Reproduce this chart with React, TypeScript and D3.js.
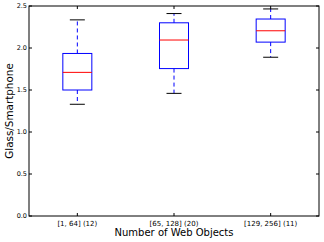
import React, { useRef, useEffect } from "react";
import * as d3 from "d3";

const categories = ["[1, 64] (12)", "[65, 128] (20)", "[129, 256] (11)"];
const whiskerLow = [1.33, 1.46, 1.89];
const q1 = [1.5, 1.755, 2.07];
const medians = [1.71, 2.095, 2.205];
const q3 = [1.935, 2.3, 2.345];
const whiskerHigh = [2.335, 2.41, 2.465];
const yTicks = [0.0, 0.5, 1.0, 1.5, 2.0, 2.5];

const width = 324;
const height = 242;
const margin = { top: 6, right: 5, bottom: 26, left: 29 };

const App = () => {
  const svgRef = useRef<SVGSVGElement>(null);

  useEffect(() => {
    const svg = d3.select(svgRef.current);
    svg.selectAll("*").remove();

    const w = width - margin.left - margin.right;
    const h = height - margin.top - margin.bottom;

    const x = d3.scaleLinear().domain([0.5, 3.5]).range([0, w]);
    const y = d3.scaleLinear().domain([0, 2.5]).range([h, 0]);

    const g = svg
      .append("g")
      .attr("transform", `translate(${margin.left},${margin.top})`);

    const font = "DejaVu Sans";

    const data = categories.map((c, i) => ({
      i: i + 1,
      lo: whiskerLow[i],
      q1: q1[i],
      med: medians[i],
      q3: q3[i],
      hi: whiskerHigh[i],
    }));
    const boxW = 29;
    const capW = 15;

    const box = g
      .selectAll("g.box")
      .data(data)
      .enter()
      .append("g")
      .attr("class", "box");

    // whiskers
    box
      .append("line")
      .attr("x1", (d) => x(d.i))
      .attr("x2", (d) => x(d.i))
      .attr("y1", (d) => y(d.q3))
      .attr("y2", (d) => y(d.hi))
      .attr("stroke", "#0000ff")
      .attr("stroke-dasharray", "4,3");
    box
      .append("line")
      .attr("x1", (d) => x(d.i))
      .attr("x2", (d) => x(d.i))
      .attr("y1", (d) => y(d.q1))
      .attr("y2", (d) => y(d.lo))
      .attr("stroke", "#0000ff")
      .attr("stroke-dasharray", "4,3");
    // caps
    box
      .append("line")
      .attr("x1", (d) => x(d.i) - capW / 2)
      .attr("x2", (d) => x(d.i) + capW / 2)
      .attr("y1", (d) => y(d.hi))
      .attr("y2", (d) => y(d.hi))
      .attr("stroke", "#000");
    box
      .append("line")
      .attr("x1", (d) => x(d.i) - capW / 2)
      .attr("x2", (d) => x(d.i) + capW / 2)
      .attr("y1", (d) => y(d.lo))
      .attr("y2", (d) => y(d.lo))
      .attr("stroke", "#000");
    // box rect
    box
      .append("rect")
      .attr("x", (d) => x(d.i) - boxW / 2)
      .attr("width", boxW)
      .attr("y", (d) => y(d.q3))
      .attr("height", (d) => y(d.q1) - y(d.q3))
      .attr("fill", "none")
      .attr("stroke", "#0000ff");
    // median
    box
      .append("line")
      .attr("x1", (d) => x(d.i) - boxW / 2)
      .attr("x2", (d) => x(d.i) + boxW / 2)
      .attr("y1", (d) => y(d.med))
      .attr("y2", (d) => y(d.med))
      .attr("stroke", "#ff0000");

    // frame
    g.append("rect")
      .attr("x", 0)
      .attr("y", 0)
      .attr("width", w)
      .attr("height", h)
      .attr("fill", "none")
      .attr("stroke", "#000")
      .attr("stroke-width", 1);

    // y ticks (inward, both sides)
    yTicks.forEach((t) => {
      g.append("line")
        .attr("x1", 0)
        .attr("x2", 3)
        .attr("y1", y(t))
        .attr("y2", y(t))
        .attr("stroke", "#000");
      g.append("line")
        .attr("x1", w)
        .attr("x2", w - 3)
        .attr("y1", y(t))
        .attr("y2", y(t))
        .attr("stroke", "#000");
      g.append("text")
        .attr("x", -2)
        .attr("y", y(t))
        .attr("dy", "0.35em")
        .attr("text-anchor", "end")
        .attr("font-family", font)
        .attr("font-size", 6.5)
        .text(t.toFixed(1));
    });

    // x ticks
    data.forEach((d, i) => {
      g.append("line")
        .attr("x1", x(d.i))
        .attr("x2", x(d.i))
        .attr("y1", h)
        .attr("y2", h - 3)
        .attr("stroke", "#000");
      g.append("line")
        .attr("x1", x(d.i))
        .attr("x2", x(d.i))
        .attr("y1", 0)
        .attr("y2", 3)
        .attr("stroke", "#000");
      g.append("text")
        .attr("x", x(d.i))
        .attr("y", h + 9.5)
        .attr("text-anchor", "middle")
        .attr("font-family", font)
        .attr("font-size", 7)
        .text(categories[i]);
    });

    // axis labels
    g.append("text")
      .attr("x", w / 2)
      .attr("y", h + 20)
      .attr("text-anchor", "middle")
      .attr("font-family", font)
      .attr("font-size", 10)
      .text("Number of Web Objects");

    g.append("text")
      .attr("transform", `translate(${-16},${h / 2}) rotate(-90)`)
      .attr("text-anchor", "middle")
      .attr("font-family", font)
      .attr("font-size", 10.4)
      .text("Glass/Smartphone");
  }, []);

  return (
    <svg
      ref={svgRef}
      width={width}
      height={height}
      style={{ display: "block", position: "absolute", left: 0, top: 0, background: "#fff" }}
    />
  );
};

export default App;
